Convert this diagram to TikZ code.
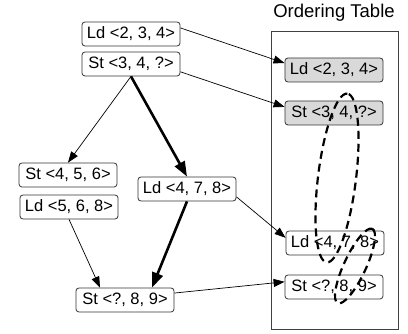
\documentclass[tikz,border=0pt]{standalone}
\usepackage{fontspec}
\setmainfont{Liberation Sans}
\usetikzlibrary{arrows.meta}

\begin{document}
\begin{tikzpicture}[x=1pt, y=1pt, font=\fontsize{16.5}{19}\selectfont,
	insn/.style={draw=black!80, line width=.8pt, rounded corners=3pt, minimum width=98pt, minimum height=24pt, inner xsep=5pt},
	held/.style={insn, fill=gray!30},
	dep/.style={line width=.7pt, -{Triangle[length=11pt,width=8pt]}},
	crit/.style={line width=2.6pt, -{Triangle[length=15pt,width=11pt]}},
	grp/.style={line width=2.2pt, dash pattern=on 8pt off 5pt}]
	\useasboundingbox (0,0) rectangle (408,334);
	\draw[color=darkgray, line width=1pt] (271,4) rectangle (398,302);
	\node (title) at (334,321) {\fontsize{18.5}{21}\selectfont Ordering Table};
	\node[insn] (ld234) at (131,300) {Ld <2, 3, 4>};
	\node[insn] (st34q) at (131,270) {St <3, 4, ?>};
	\node[insn] (st456) at (68,159) {St <4, 5, 6>};
	\node[insn] (ld568) at (69,127) {Ld <5, 6, 8>};
	\node[insn] (ld478) at (187,145) {Ld <4, 7, 8>};
	\node[insn] (stq89) at (125,34) {St <?, 8, 9>};
	\node[held] (tld234) at (334,264) {Ld <2, 3, 4>};
	\node[held] (tst34q) at (334,221) {St <3, 4, ?>};
	\node[insn] (tld478) at (335,91) {Ld <4, 7, 8>};
	\node[insn] (tstq89) at (334,47) {St <?, 8, 9>};
	\draw[dep] (ld234.7) -- (tld234.172);
	\draw[dep] (st34q.351) -- (tst34q.173);
	\draw[dep] (st34q.south) -- (st456.north);
	\draw[crit] (st34q.south) -- (ld478.north);
	\draw[crit] (ld478.south) -- ([xshift=27pt]stq89.north);
	\draw[dep] (ld568.south) -- ([xshift=-25pt]stq89.north);
	\draw[dep] (ld478.351) -- (tld478.174);
	\draw[dep] (stq89.8) -- (tstq89.174);
	\draw[grp, rotate around={83:(337,156)}] (337,156) ellipse [x radius=85, y radius=19];
	\draw[grp, rotate around={65:(355,68)}] (355,68) ellipse [x radius=41, y radius=11];
\end{tikzpicture}
\end{document}
